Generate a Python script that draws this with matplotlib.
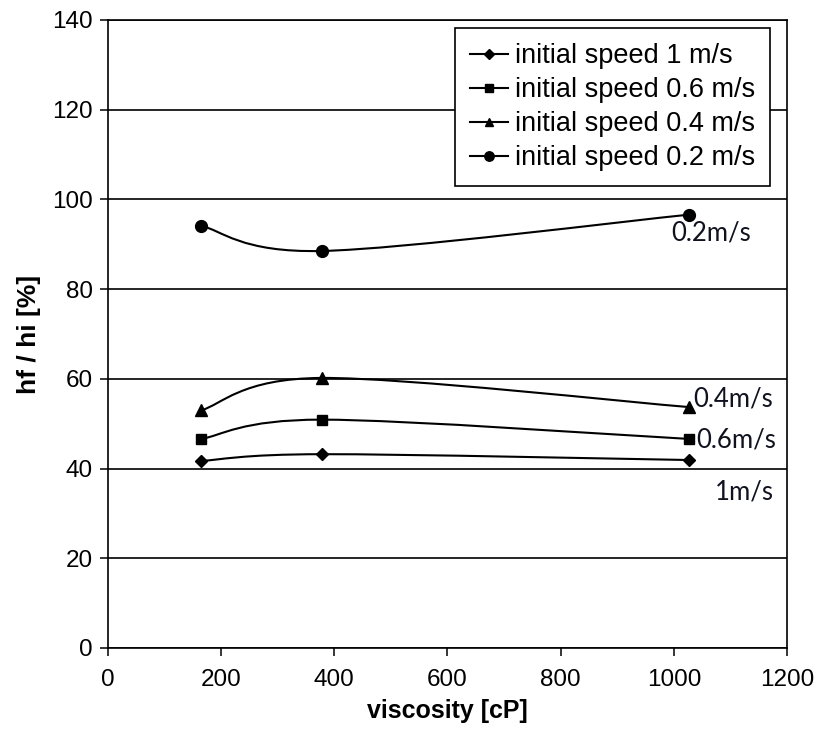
import numpy as np
import matplotlib
matplotlib.use("Agg")
import matplotlib.pyplot as plt
from matplotlib.path import Path
from matplotlib.patches import PathPatch
from matplotlib.lines import Line2D

# viscosity [cP] for each measured point
viscosity = [165, 378, 1027]

# hf / hi [%] per initial speed
speed_1 = [41.7, 43.2, 41.9]
speed_06 = [46.6, 50.9, 46.6]
speed_04 = [53.0, 60.2, 53.7]
speed_02 = [94.1, 88.5, 96.6]

labels = ["initial speed 1 m/s", "initial speed 0.6 m/s",
          "initial speed 0.4 m/s", "initial speed 0.2 m/s"]
markers = ["D", "s", "^", "o"]
marker_sizes = [6.5, 7, 8, 8.5]

# text written next to the curve ends
end_notes = ["1m/s", "0.6m/s", "0.4m/s", "0.2m/s"]
note_pos = [(1072, 34.8), (1040, 46.4), (1034, 55.6), (996, 92.4)]

x_ticks = [0, 200, 400, 600, 800, 1000, 1200]
y_ticks = [0, 20, 40, 60, 80, 100, 120, 140]


def smooth_path(xs, ys):
    # Excel-like smoothed line: bezier segments with catmull-rom tangents
    pts = np.column_stack([xs, ys]).astype(float)
    n = len(pts)
    verts = [pts[0]]
    codes = [Path.MOVETO]
    for i in range(n - 1):
        p0 = pts[i - 1] if i > 0 else pts[i]
        p1 = pts[i]
        p2 = pts[i + 1]
        p3 = pts[i + 2] if i + 2 < n else pts[i + 1]
        c1 = p1 + (p2 - p0) / 6.0
        c2 = p2 - (p3 - p1) / 6.0
        verts += [c1, c2, p2]
        codes += [Path.CURVE4] * 3
    return Path(verts, codes)


plt.rcParams['font.family'] = ['Liberation Sans', 'DejaVu Sans']

fig = plt.figure(figsize=(8.14, 7.34), dpi=100)
ax = fig.add_axes([0.1327, 0.1172, 0.8341, 0.8556])

series = [speed_1, speed_06, speed_04, speed_02]
for vals, mk, ms in zip(series, markers, marker_sizes):
    ax.add_patch(PathPatch(smooth_path(viscosity, vals), facecolor='none',
                           edgecolor='black', lw=1.5, zorder=3))
    ax.plot(viscosity, vals, linestyle='none', marker=mk, ms=ms,
            color='black', zorder=4)

for txt, (tx, ty) in zip(end_notes, note_pos):
    ax.text(tx, ty, txt, fontsize=18.5, family=['Lato', 'DejaVu Sans'],
            color='#10131f', va='center', ha='left', zorder=5)

ax.set_xlim(0, 1200)
ax.set_ylim(0, 140)
ax.set_xticks(x_ticks)
ax.set_yticks(y_ticks)
ax.tick_params(axis='both', labelsize=17.5, length=6, width=1.1,
               direction='out', colors='black')
ax.tick_params(axis='y', pad=5)
ax.tick_params(axis='x', pad=9)

ax.yaxis.grid(True, color='black', lw=1.2)
ax.set_axisbelow(True)
for side in ['left', 'bottom', 'right', 'top']:
    ax.spines[side].set_linewidth(1.2)
    ax.spines[side].set_color('black')

ax.set_xlabel("viscosity [cP]", fontsize=18, fontweight='bold', labelpad=6)
ax.set_ylabel("hf / hi [%]", fontsize=19, fontweight='bold', labelpad=8)

handles = [Line2D([], [], color='black', lw=1.5, marker=mk, ms=ms * 0.8)
           for mk, ms in zip(markers, marker_sizes)]
leg = ax.legend(handles, labels, loc='upper right',
                bbox_to_anchor=(0.975, 0.987), borderaxespad=0,
                fontsize=19.5, handlelength=1.4, handletextpad=0.25,
                labelspacing=0.3, borderpad=0.55, fancybox=False,
                framealpha=1, edgecolor='black')
leg.get_frame().set_linewidth(1.2)
leg.set_zorder(6)

fig.savefig("out.png", dpi=100)
